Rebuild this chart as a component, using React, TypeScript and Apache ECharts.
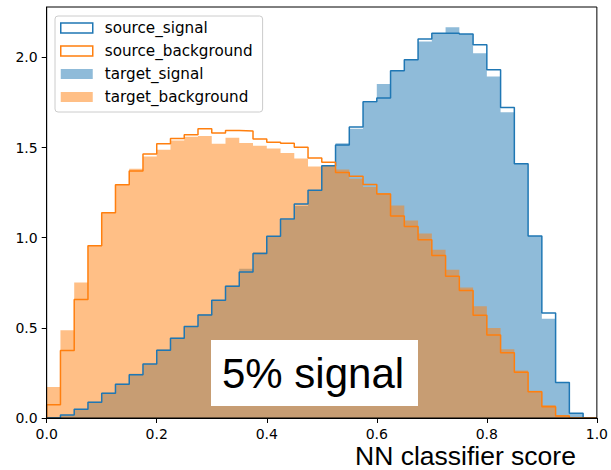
import { useEffect, useRef } from "react";
import * as echarts from "echarts";

// Histogram binning: 40 bins of width 0.025 on [0, 1]
const BIN_WIDTH = 0.025;

// Normalised densities per bin
const sourceSignal = [
  0, 0.017, 0.048, 0.088, 0.137, 0.187, 0.24, 0.3, 0.376, 0.443,
  0.508, 0.572, 0.653, 0.731, 0.81, 0.912, 1.008, 1.104, 1.187, 1.264,
  1.4, 1.515, 1.615, 1.754, 1.775, 1.927, 1.988, 2.102, 2.135, 2.135,
  2.13, 2.07, 1.932, 1.722, 1.41, 1.01, 0.582, 0.197, 0.026, 0,
];

const sourceBackground = [
  0.074, 0.375, 0.658, 0.956, 1.138, 1.294, 1.37, 1.464, 1.521, 1.551,
  1.572, 1.605, 1.581, 1.595, 1.592, 1.548, 1.53, 1.524, 1.502, 1.443,
  1.419, 1.362, 1.341, 1.295, 1.242, 1.12, 1.063, 0.989, 0.902, 0.786,
  0.707, 0.57, 0.46, 0.362, 0.254, 0.146, 0.063, 0.011, 0, 0,
];

const targetSignal = [
  0, 0.015, 0.05, 0.09, 0.14, 0.19, 0.245, 0.3, 0.38, 0.445,
  0.51, 0.575, 0.655, 0.735, 0.828, 0.92, 1.01, 1.1, 1.176, 1.265,
  1.4, 1.524, 1.604, 1.751, 1.853, 1.927, 1.988, 2.089, 2.134, 2.167,
  2.13, 2.023, 1.894, 1.696, 1.41, 1.01, 0.55, 0.197, 0.026, 0,
];

const targetBackground = [
  0.172, 0.487, 0.752, 0.96, 1.139, 1.296, 1.383, 1.45, 1.488, 1.54,
  1.56, 1.565, 1.521, 1.555, 1.525, 1.51, 1.495, 1.47, 1.44, 1.395,
  1.4, 1.379, 1.327, 1.281, 1.248, 1.179, 1.096, 1.023, 0.934, 0.823,
  0.724, 0.62, 0.499, 0.381, 0.264, 0.151, 0.072, 0.017, 0, 0,
];

const xTicks = [0, 0.2, 0.4, 0.6, 0.8, 1.0];
const yTicks = [0, 0.5, 1.0, 1.5, 2.0];

const BLUE = "#1f77b4";
const ORANGE = "#ff7f0e";
const TICK_FONT = "DejaVu Sans";

// Turn per-bin heights into step points: rise at the left edge, fall at the right edge
function stepPoints(values: number[]): [number, number][] {
  const pts: [number, number][] = [[0, 0]];
  values.forEach((v, i) => pts.push([+(i * BIN_WIDTH).toFixed(4), v]));
  pts.push([+(values.length * BIN_WIDTH).toFixed(4), 0]);
  return pts;
}

export default function App() {
  const ref = useRef<HTMLDivElement>(null);

  useEffect(() => {
    if (!ref.current) return;
    const chart = echarts.init(ref.current, undefined, { renderer: "svg" });

    const filled = (name: string, color: string, values: number[], z: number) => ({
      name,
      type: "line",
      step: "end",
      data: stepPoints(values),
      symbol: "none",
      showSymbol: false,
      lineStyle: { width: 0, color },
      itemStyle: { color },
      areaStyle: { color, opacity: 0.5 },
      z,
    });

    const outline = (name: string, color: string, values: number[], z: number) => ({
      name,
      type: "line",
      step: "end",
      data: stepPoints(values),
      symbol: "none",
      showSymbol: false,
      lineStyle: { width: 1.5, color },
      itemStyle: { color },
      z,
    });

    chart.setOption({
      animation: false,
      grid: {
        left: 46.7,
        right: 13.3,
        top: 7,
        bottom: 52,
        show: true,
        borderColor: "#000",
        borderWidth: 1,
        backgroundColor: "transparent",
        z: 6,
      },
      xAxis: {
        type: "value",
        min: 0,
        max: 1,
        interval: 0.2,
        z: 10,
        splitLine: { show: false },
        axisLine: { onZero: false, lineStyle: { color: "#000", width: 1 } },
        axisTick: { length: 5, lineStyle: { color: "#000" }, customValues: xTicks },
        axisLabel: {
          customValues: xTicks,
          formatter: (v: number) => v.toFixed(1),
          color: "#000",
          fontFamily: TICK_FONT,
          fontSize: 14,
          margin: 9,
        },
      },
      yAxis: {
        type: "value",
        min: 0,
        max: 2.28,
        z: 10,
        splitLine: { show: false },
        axisLine: { show: true, onZero: false, lineStyle: { color: "#000", width: 1 } },
        axisTick: { show: true, length: 5, lineStyle: { color: "#000" }, customValues: yTicks },
        axisLabel: {
          customValues: yTicks,
          formatter: (v: number) => v.toFixed(1),
          color: "#000",
          fontFamily: TICK_FONT,
          fontSize: 14,
          margin: 9,
        },
      },
      legend: {
        orient: "vertical",
        left: 55,
        top: 16,
        padding: [4, 10, 7, 5],
        itemWidth: 32,
        itemHeight: 10,
        itemGap: 7,
        selectedMode: false,
        backgroundColor: "rgba(255,255,255,0.8)",
        borderColor: "#cccccc",
        borderWidth: 1,
        borderRadius: 3,
        textStyle: {
          fontFamily: TICK_FONT,
          fontSize: 15.2,
          color: "#000",
          lineHeight: 16,
          padding: [0, 0, 0, 7],
        },
        data: [
          {
            name: "source_signal",
            icon: "rect",
            itemStyle: { color: "rgba(255,255,255,0)", borderColor: BLUE, borderWidth: 1.5 },
          },
          {
            name: "source_background",
            icon: "rect",
            itemStyle: { color: "rgba(255,255,255,0)", borderColor: ORANGE, borderWidth: 1.5 },
          },
          {
            name: "target_signal",
            icon: "rect",
            itemStyle: { color: "rgba(31,119,180,0.5)", borderWidth: 0 },
          },
          {
            name: "target_background",
            icon: "rect",
            itemStyle: { color: "rgba(255,127,14,0.5)", borderWidth: 0 },
          },
        ],
      },
      series: [
        filled("target_signal", BLUE, targetSignal, 2),
        filled("target_background", ORANGE, targetBackground, 2),
        outline("source_signal", BLUE, sourceSignal, 3),
        outline("source_background", ORANGE, sourceBackground, 3),
      ],
      graphic: [
        {
          type: "rect",
          shape: { x: 211, y: 340, width: 207, height: 66 },
          style: { fill: "#fff" },
          z: 20,
        },
        {
          type: "text",
          x: 222,
          y: 373,
          style: {
            text: "5% signal",
            fontFamily: "Liberation Sans",
            fontSize: 42,
            fill: "#000",
            verticalAlign: "middle",
          },
          z: 21,
        },
        {
          type: "text",
          x: 355,
          y: 455.5,
          style: {
            text: "NN classifier score",
            fontFamily: "Liberation Sans",
            fontSize: 26.5,
            fill: "#000",
            verticalAlign: "middle",
          },
          z: 21,
        },
      ],
    });

    return () => chart.dispose();
  }, []);

  return (
    <div
      ref={ref}
      style={{ position: "absolute", left: 0, top: 0, width: 611, height: 470, background: "#fff" }}
    />
  );
}
